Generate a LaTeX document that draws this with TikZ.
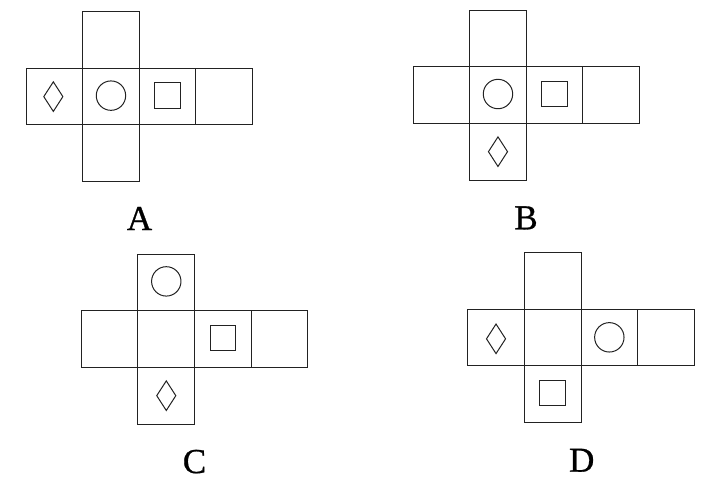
\documentclass[tikz,border=0pt]{standalone}
\usepackage{fontspec}
\setmainfont{Liberation Serif}
\newfontfamily\labfont[FakeBold=0.8]{Liberation Serif}
\usetikzlibrary{shapes.geometric}
\definecolor{ink}{HTML}{222222}
\newcommand\cs{56.65}
\newcommand\drawnet[3]{%
  \foreach \i in {0,...,3}{
    \node[cell] (#1-m\i) at ({#2+(\i+0.5)*\cs},{#3+0.5*\cs}) {};
  }
  \node[cell] (#1-t) at ({#2+1.5*\cs},{#3-0.5*\cs}) {};
  \node[cell] (#1-b) at ({#2+1.5*\cs},{#3+1.5*\cs}) {};
}
\begin{document}
\begin{tikzpicture}[x=1pt,y=-1pt,
  every path/.style={line width=1pt},
  cell/.style={draw=ink,line width=1pt,minimum size=56.65pt,inner sep=0pt,outer sep=0pt},
  circ/.style={circle,draw=ink,line width=1pt,minimum size=29.4pt,inner sep=0pt},
  sq/.style={rectangle,draw=ink,line width=1pt,minimum size=25.4pt,inner sep=0pt},
  dia/.style={diamond,draw=ink,line width=1pt,minimum width=19.5pt,minimum height=30pt,inner sep=0pt},
  lab/.style={anchor=base,inner sep=0pt,font=\labfont\fontsize{35}{40}\selectfont,text=black}]
\useasboundingbox (0,0) rectangle (722,482);
% Net A
\drawnet{A}{26}{68.3}
\node[dia] (A-d) at ([xshift=-1pt]A-m0) {};
\node[circ] (A-c) at ([yshift=1pt]A-m1) {};
\node[sq] (A-s) at ([yshift=1pt]A-m2) {};
\node[lab] (labA) at (139.5,230) {A};
% Net B
\drawnet{B}{413}{66.7}
\node[circ] (B-c) at ([yshift=1pt]B-m1) {};
\node[sq] (B-s) at ([yshift=1pt]B-m2) {};
\node[dia] (B-d) at (B-b) {};
\node[lab] (labB) at (526,229.3) {B};
% Net C
\drawnet{C}{81.3}{310.7}
\node[circ] (C-c) at ([yshift=1pt]C-t) {};
\node[sq] (C-s) at ([yshift=1pt]C-m2) {};
\node[dia] (C-d) at (C-b) {};
\node[lab] (labC) at (194.5,473) {C};
% Net D
\drawnet{D}{467.7}{309}
\node[dia] (D-d) at ([yshift=-1.5pt]D-m0) {};
\node[circ] (D-c) at (D-m2) {};
\node[sq] (D-s) at ([yshift=1pt]D-b) {};
\node[lab] (labD) at (581.7,471.7) {D};
\end{tikzpicture}
\end{document}
